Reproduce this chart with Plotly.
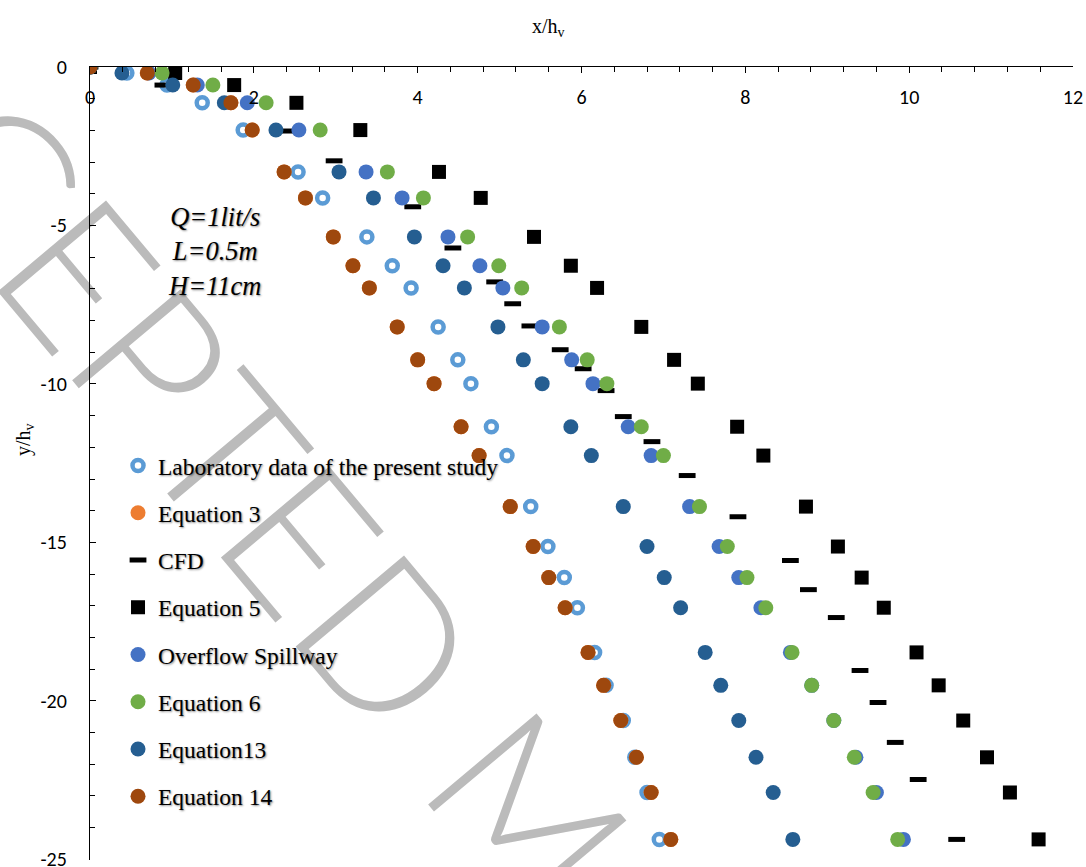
import plotly.graph_objects as go

# Shared vertical positions (y/h_v) of the profile rows
y_hv = [0, -0.19, -0.57, -1.13, -1.99, -3.31, -4.13, -5.36, -6.27, -6.97, -8.20, -9.24,
        -9.99, -11.35, -12.26, -13.87, -15.13, -16.11, -17.06, -18.47, -19.51, -20.62,
        -21.78, -22.89, -24.37]

# Horizontal positions (x/h_v) for each data set
lab_x = [0, 0.45, 0.94, 1.37, 1.87, 2.54, 2.84, 3.38, 3.69, 3.92, 4.25, 4.49, 4.65, 4.90,
         5.09, 5.38, 5.59, 5.79, 5.95, 6.16, 6.30, 6.51, 6.65, 6.80, 6.95]
eq3_x = [0, 0.70, 1.26, 1.72, 1.98, 2.37, 2.63, 2.97, 3.21, 3.41, 3.75, 4.00, 4.20, 4.53,
         4.75, 5.13, 5.41, 5.60, 5.80, 6.08, 6.27, 6.48, 6.67, 6.85, 7.09]
eq5_x = [0, 1.04, 1.76, 2.52, 3.30, 4.26, 4.77, 5.42, 5.87, 6.19, 6.73, 7.13, 7.42, 7.90,
         8.22, 8.74, 9.13, 9.42, 9.69, 10.09, 10.36, 10.66, 10.95, 11.23, 11.58]
overflow_x = [0, 0.72, 1.31, 1.92, 2.55, 3.37, 3.81, 4.37, 4.76, 5.04, 5.52, 5.88, 6.14, 6.57,
              6.85, 7.32, 7.68, 7.92, 8.19, 8.55, 8.81, 9.08, 9.35, 9.60, 9.93]
eq6_x = [0, 0.88, 1.50, 2.15, 2.81, 3.63, 4.07, 4.61, 4.99, 5.27, 5.73, 6.07, 6.31, 6.73,
         7.00, 7.44, 7.78, 8.02, 8.25, 8.57, 8.81, 9.08, 9.33, 9.56, 9.86]
eq13_x = [0, 0.39, 1.01, 1.64, 2.27, 3.04, 3.46, 3.96, 4.31, 4.57, 4.98, 5.29, 5.52, 5.87,
          6.12, 6.51, 6.80, 7.01, 7.21, 7.51, 7.70, 7.92, 8.13, 8.34, 8.58]
eq14_x = [0, 0.70, 1.26, 1.72, 1.98, 2.37, 2.63, 2.97, 3.21, 3.41, 3.75, 4.00, 4.20, 4.53,
          4.75, 5.13, 5.41, 5.60, 5.80, 6.08, 6.27, 6.48, 6.67, 6.85, 7.09]

# CFD profile has its own sampling points
cfd_x = [0, 0.89, 2.42, 2.98, 3.94, 4.43, 4.94, 5.16, 5.37, 5.74, 6.02, 6.30, 6.51, 6.86,
         7.29, 7.91, 8.55, 8.77, 9.11, 9.40, 9.62, 9.83, 10.11, 10.58]
cfd_y = [0, -0.57, -2.02, -2.96, -4.41, -5.71, -6.78, -7.47, -8.17, -8.92, -9.52, -10.21,
         -11.03, -11.82, -12.89, -14.19, -15.57, -16.49, -17.37, -19.04, -20.05, -21.31,
         -22.48, -24.37]

x_ticks = [0, 2, 4, 6, 8, 10, 12]
y_ticks = [0, -5, -10, -15, -20, -25]

SERIF = "Liberation Serif, Times New Roman, serif"
TICKFONT = "Carlito, Lato, sans-serif"
SHADOW = "1px 1px 2px rgba(0,0,0,0.45)"

fig = go.Figure()


def dots(name, xs, ys, color, symbol="circle", size=15, line=None):
    marker = dict(color=color, size=size, symbol=symbol)
    if line is not None:
        marker["line"] = line
    fig.add_trace(go.Scatter(x=xs, y=ys, mode="markers", name=name, marker=marker,
                             legendgroup=name))


dots("Laboratory data of the present study", lab_x, y_hv, "#5B9BD5",
     symbol="circle-open", size=11, line=dict(color="#5B9BD5", width=4.5))
dots("Equation 3", eq3_x, y_hv, "#ED7D31")
dots("CFD", cfd_x, cfd_y, "black", symbol="line-ew", size=12,
     line=dict(color="black", width=5))
dots("Equation 5", eq5_x, y_hv, "black", symbol="square", size=14)
dots("Overflow Spillway", overflow_x, y_hv, "#4472C4")
dots("Equation 6", eq6_x, y_hv, "#70AD47")
dots("Equation13", eq13_x, y_hv, "#255E91")
dots("Equation 14", eq14_x, y_hv, "#9E480E")

# empty companion trace so the label-carrying x axis gets drawn
fig.add_trace(go.Scatter(x=[None], y=[None], xaxis="x2", mode="markers",
                         showlegend=False, hoverinfo="skip"))

fig.update_layout(
    width=1086, height=867,
    margin=dict(l=90, r=13, t=67, b=7),
    paper_bgcolor="white", plot_bgcolor="white",
    showlegend=True,
    legend=dict(x=0.0285, y=0.525, xanchor="left", yanchor="top",
                bgcolor="rgba(0,0,0,0)", tracegroupgap=13.7,
                font=dict(family=SERIF, size=23.5, color="black", shadow=SHADOW)),
    xaxis=dict(
        side="top", range=[0, 12], tickvals=x_ticks, showticklabels=False,
        ticks="inside", ticklen=6, tickwidth=1.3, tickcolor="black",
        minor=dict(dtick=0.4, ticks="inside", ticklen=5, tickwidth=1, tickcolor="black"),
        showline=True, linecolor="black", linewidth=1.3,
        showgrid=False, zeroline=False, automargin=False,
    ),
    # companion axis that carries the x tick labels just under the top axis line
    xaxis2=dict(
        overlaying="x", side="bottom", anchor="free", position=0.98, range=[0, 12],
        tickvals=x_ticks, ticktext=[str(v) for v in x_ticks], ticks="", showline=False,
        showgrid=False, zeroline=False, automargin=False, ticklabeloverflow="allow",
        tickfont=dict(family=TICKFONT, size=20, color="black"),
    ),
    yaxis=dict(
        range=[-25.02, 0], tickvals=y_ticks, ticktext=[str(v) for v in y_ticks],
        ticks="inside", ticklen=6, tickwidth=1.3, tickcolor="black",
        minor=dict(dtick=1, ticks="inside", ticklen=5, tickwidth=1, tickcolor="black"),
        showline=True, linecolor="black", linewidth=1.3,
        showgrid=False, zeroline=False, automargin=False,
        tickfont=dict(family=TICKFONT, size=20, color="black"),
        ticklabelstandoff=18, ticklabeloverflow="allow",
    ),
)

# axis titles
fig.add_annotation(x=(548 - 90) / 983, y=1.0, xref="paper", yref="paper", yshift=40,
                   showarrow=False, xanchor="center", yanchor="middle",
                   text="x/h<sub>v</sub>", font=dict(family=SERIF, size=20, color="black"))
fig.add_annotation(x=0, y=(860 - 440) / 793, xref="paper", yref="paper", xshift=-66,
                   showarrow=False, xanchor="center", yanchor="middle", textangle=-90,
                   text="y/h<sub>v</sub>", font=dict(family=SERIF, size=20, color="black"))

fig.add_annotation(
    x=(214 - 90) / 983, y=(860 - 251) / 793, xref="paper", yref="paper", showarrow=False,
    xanchor="center", yanchor="middle",
    text="<i>Q=1lit/s<br>L=0.5m<br>H=11cm</i>", align="center",
    font=dict(family=SERIF, size=26.5, color="black", shadow=SHADOW),
)

# diagonal manuscript watermark, kept beneath the data
fig.add_shape(
    type="rect", xref="paper", yref="paper", x0=0.45, x1=0.46, y0=0.055, y1=0.071,
    line=dict(width=0), fillcolor="rgba(0,0,0,0)", layer="below",
    label=dict(text="ACCEPTED MANUSCRIPT", textangle=50, textposition="middle center",
               font=dict(family="Lato", size=200, color="#BBBBBB", weight=300)),
)

fig.write_html("out.html")
